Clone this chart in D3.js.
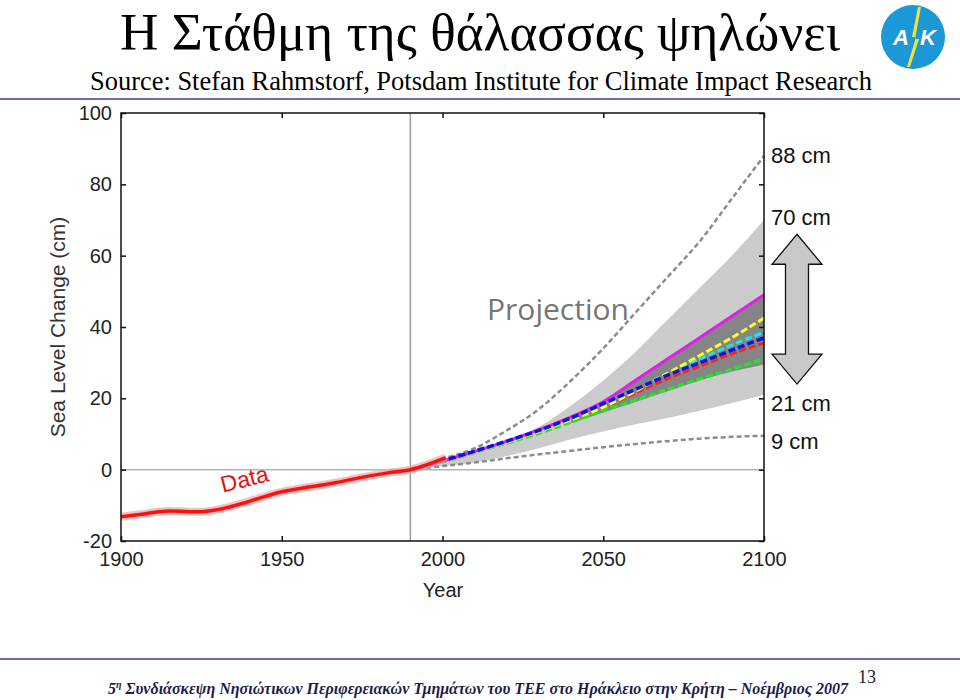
<!DOCTYPE html>
<html>
<head>
<meta charset="utf-8">
<script src="https://cdn.jsdelivr.net/npm/d3@7"></script>
<style>
  body { margin: 0; background: #fff; }
  svg { display: block; }
</style>
</head>
<body>
<div id="chart"></div>
<script>
const histYears = [1900, 1907, 1915, 1925, 1930, 1938, 1943, 1950, 1959, 1967, 1974, 1983, 1990, 2001];
const histValues = [-13.2, -12.4, -11.6, -11.8, -11.2, -9.4, -8.0, -6.2, -4.8, -3.6, -2.3, -0.9, 0, 3.4];

// projections, one value per decade from 1990 to 2100
const projYears = [1990, 2000, 2010, 2020, 2030, 2040, 2050, 2060, 2070, 2080, 2090, 2100];
const upperDashed = [0, 3, 6, 11, 17, 25, 34, 44, 54, 64, 76, 88];
const lowerDashed = [0, 1, 2, 3.2, 4.3, 5.3, 6.3, 7.2, 8, 8.7, 9.2, 9.5];
const bandUpper = [0, 2, 4.5, 8, 12, 18, 25, 33, 42, 51, 60, 70];
const bandLower = [0, 1, 2, 3.8, 6, 8.5, 10.7, 12.7, 14.5, 16.5, 18.7, 21];

const coreYears = [2040, 2050, 2060, 2070, 2080, 2090, 2100];
const coreUpper = [14.5, 19.5, 25.5, 31.5, 37.5, 43.5, 49.5];
const coreLower = [13, 16, 19, 22, 25, 27.5, 29.5];

const scenarioNames = ['green', 'red', 'cyan', 'yellow', 'magenta', 'blue'];
const scenarioValues = [
  [0, 2.2, 4.8, 7.4, 10.2, 13.3, 16.5, 19.5, 22.5, 25.5, 28.2, 31],
  [0, 2.3, 5.0, 7.8, 10.8, 14.2, 17.5, 21.5, 25.5, 29, 32.5, 35.5],
  [0, 2.3, 5.0, 7.8, 10.9, 14.4, 18, 22.5, 27, 31, 35, 38.5],
  [0, 2.3, 5.0, 7.7, 10.7, 14.0, 17.5, 22, 27, 32, 37, 42.5],
  [0, 2.4, 5.1, 8.0, 11.2, 14.8, 19, 25, 31, 37, 43, 49],
  [0, 2.5, 5.2, 8.0, 11.0, 14.5, 18.5, 22.5, 26.5, 30, 33.5, 37]
];

const endLabels = [88, 70, 21, 9];
const arrowRange = [24, 66];

const xTicks = [1900, 1950, 2000, 2050, 2100];
const yTicks = [-20, 0, 20, 40, 60, 80, 100];

const width = 960;
const height = 700;
const plot = { left: 121, right: 764, top: 113, bottom: 541 };

const scenarioColor = {
  green: '#22e622',
  red: '#ff2020',
  cyan: '#18e6f0',
  yellow: '#ffff20',
  magenta: '#e020e8',
  blue: '#0a14e0'
};
const headerRule = '#6a6ab8';
const sans = 'Arial, "Liberation Sans", sans-serif';
const serif = '"Times New Roman", "Liberation Serif", serif';

const svg = d3.select('#chart')
  .append('svg')
  .attr('width', width)
  .attr('height', height);

// --- slide header ---
svg.append('text')
  .attr('x', 480)
  .attr('y', 50)
  .attr('text-anchor', 'middle')
  .attr('font-family', serif)
  .attr('font-size', 52)
  .attr('textLength', 720)
  .attr('lengthAdjust', 'spacingAndGlyphs')
  .text('Η Στάθμη της θάλασσας ψηλώνει');

svg.append('text')
  .attr('x', 481)
  .attr('y', 90)
  .attr('text-anchor', 'middle')
  .attr('font-family', serif)
  .attr('font-size', 28)
  .attr('textLength', 782)
  .attr('lengthAdjust', 'spacingAndGlyphs')
  .text('Source: Stefan Rahmstorf, Potsdam Institute for Climate Impact Research');

svg.append('line')
  .attr('x1', 0).attr('x2', width)
  .attr('y1', 99).attr('y2', 99)
  .attr('stroke', headerRule)
  .attr('stroke-width', 2);

// logo
const logo = svg.append('g').attr('transform', 'translate(913,37)');
logo.append('circle').attr('r', 32).attr('fill', '#1b98d5');
logo.append('path')
  .attr('d', 'M5,-30 L-1,0 L3,0 L-6,30 L-3,30 L6,2 L2,2 L8,-30 Z')
  .attr('fill', '#f2e23a');
logo.append('text')
  .attr('x', -12).attr('y', 8)
  .attr('text-anchor', 'middle')
  .attr('font-family', sans)
  .attr('font-weight', 700)
  .attr('font-style', 'italic')
  .attr('font-size', 22)
  .attr('fill', '#fff')
  .text('A');
logo.append('text')
  .attr('x', 15).attr('y', 8)
  .attr('text-anchor', 'middle')
  .attr('font-family', sans)
  .attr('font-weight', 700)
  .attr('font-style', 'italic')
  .attr('font-size', 22)
  .attr('fill', '#fff')
  .text('K');

// --- chart ---
const x = d3.scaleLinear().domain([1900, 2100]).range([plot.left, plot.right]);
const y = d3.scaleLinear().domain([-20, 100]).range([plot.bottom, plot.top]);

const line = d3.line()
  .x(d => x(d[0]))
  .y(d => y(d[1]))
  .curve(d3.curveMonotoneX);

const area = d3.area()
  .x(d => x(d[0]))
  .y0(d => y(d[1]))
  .y1(d => y(d[2]))
  .curve(d3.curveMonotoneX);

// reference lines
svg.append('line')
  .attr('x1', x(1900)).attr('x2', x(2100))
  .attr('y1', y(0)).attr('y2', y(0))
  .attr('stroke', '#b4b4b4')
  .attr('stroke-width', 1.5);

svg.append('line')
  .attr('x1', x(1990)).attr('x2', x(1990))
  .attr('y1', y(-20)).attr('y2', y(100))
  .attr('stroke', '#9a9a9a')
  .attr('stroke-width', 1.5);

// uncertainty bands
svg.append('path')
  .datum(d3.zip(projYears, bandLower, bandUpper))
  .attr('d', area)
  .attr('fill', '#cbcbcb');

svg.append('path')
  .datum(d3.zip(coreYears, coreLower, coreUpper))
  .attr('d', area)
  .attr('fill', '#858585');

// outer bounds
[upperDashed, lowerDashed].forEach(vals => {
  svg.append('path')
    .datum(d3.zip(projYears, vals))
    .attr('d', line)
    .attr('fill', 'none')
    .attr('stroke', '#8c8c8c')
    .attr('stroke-width', 2.5)
    .attr('stroke-dasharray', '5,3');
});

// model scenarios
scenarioNames.forEach((name, i) => {
  svg.append('path')
    .datum(d3.zip(projYears, scenarioValues[i]))
    .attr('d', line)
    .attr('fill', 'none')
    .attr('stroke', scenarioColor[name])
    .attr('stroke-width', name === 'blue' ? 3.5 : 3)
    .attr('stroke-dasharray', name === 'magenta' ? null : '7,3');
});

// observations
const histData = d3.zip(histYears, histValues);
svg.append('path')
  .datum(histData)
  .attr('d', line)
  .attr('fill', 'none')
  .attr('stroke', '#e8a8a8')
  .attr('stroke-opacity', 0.7)
  .attr('stroke-width', 8);

svg.append('path')
  .datum(histData)
  .attr('d', line)
  .attr('fill', 'none')
  .attr('stroke', '#ff1010')
  .attr('stroke-width', 3.5);

// axes box
const axisStyle = g => {
  g.select('.domain').remove();
  g.selectAll('.tick line').attr('stroke', '#111').attr('stroke-width', 1.5);
  g.selectAll('.tick text')
    .attr('font-family', sans)
    .attr('font-size', 20)
    .attr('fill', '#222');
};

svg.append('g')
  .attr('transform', `translate(0,${plot.bottom})`)
  .call(d3.axisBottom(x).tickValues(xTicks).tickFormat(d => String(d)).tickSize(-5).tickPadding(11))
  .call(axisStyle);

svg.append('g')
  .attr('transform', `translate(0,${plot.top})`)
  .call(d3.axisTop(x).tickValues(xTicks).tickFormat('').tickSize(-5))
  .call(axisStyle);

svg.append('g')
  .attr('transform', `translate(${plot.left},0)`)
  .call(d3.axisLeft(y).tickValues(yTicks).tickFormat(d => String(d)).tickSize(-5).tickPadding(9))
  .call(axisStyle);

svg.append('g')
  .attr('transform', `translate(${plot.right},0)`)
  .call(d3.axisRight(y).tickValues(yTicks).tickFormat('').tickSize(-5))
  .call(axisStyle);

svg.append('rect')
  .attr('x', plot.left)
  .attr('y', plot.top)
  .attr('width', plot.right - plot.left)
  .attr('height', plot.bottom - plot.top)
  .attr('fill', 'none')
  .attr('stroke', '#111')
  .attr('stroke-width', 1.5);

svg.append('text')
  .attr('x', (plot.left + plot.right) / 2 + 0.5)
  .attr('y', 597)
  .attr('text-anchor', 'middle')
  .attr('font-family', sans)
  .attr('font-size', 20)
  .attr('fill', '#222')
  .text('Year');

svg.append('text')
  .attr('transform', `translate(65,${y(40)}) rotate(-90)`)
  .attr('text-anchor', 'middle')
  .attr('font-family', sans)
  .attr('font-size', 21)
  .attr('fill', '#333')
  .text('Sea Level Change (cm)');

// in-plot annotations
svg.append('text')
  .attr('x', 558)
  .attr('y', 320)
  .attr('text-anchor', 'middle')
  .attr('font-family', '"Open Sans", "DejaVu Sans", sans-serif')
  .attr('font-size', 30)
  .attr('fill', '#767676')
  .text('Projection');

svg.append('text')
  .attr('transform', `translate(${x(1939)},${y(-4.8)}) rotate(-14)`)
  .attr('text-anchor', 'middle')
  .attr('font-family', sans)
  .attr('font-size', 23)
  .attr('fill', '#e81010')
  .text('Data');

// end-of-century labels
const labelShift = { 88: 7, 70: 5, 21: 16, 9: 11 };
svg.append('g')
  .selectAll('text')
  .data(endLabels)
  .join('text')
  .attr('x', plot.right + 7)
  .attr('y', d => y(d) + labelShift[d])
  .attr('font-family', sans)
  .attr('font-size', 22)
  .attr('fill', '#111')
  .text(d => `${d} cm`);

// double-headed range arrow
const ax = plot.right + 33;
const aTop = y(arrowRange[1]);
const aBot = y(arrowRange[0]);
const headW = 25, shaftW = 11.5, headH = 30;
const arrowPath = d3.path();
arrowPath.moveTo(ax, aTop);
arrowPath.lineTo(ax + headW, aTop + headH);
arrowPath.lineTo(ax + shaftW, aTop + headH);
arrowPath.lineTo(ax + shaftW, aBot - headH);
arrowPath.lineTo(ax + headW, aBot - headH);
arrowPath.lineTo(ax, aBot);
arrowPath.lineTo(ax - headW, aBot - headH);
arrowPath.lineTo(ax - shaftW, aBot - headH);
arrowPath.lineTo(ax - shaftW, aTop + headH);
arrowPath.lineTo(ax - headW, aTop + headH);
arrowPath.closePath();
svg.append('path')
  .attr('d', arrowPath.toString())
  .attr('fill', '#c8c8c8')
  .attr('stroke', '#111')
  .attr('stroke-width', 1.3);

// --- slide footer ---
svg.append('line')
  .attr('x1', 0).attr('x2', width)
  .attr('y1', 659).attr('y2', 659)
  .attr('stroke', headerRule)
  .attr('stroke-width', 2);

const footer = svg.append('text')
  .attr('x', 478)
  .attr('y', 694)
  .attr('text-anchor', 'middle')
  .attr('font-family', serif)
  .attr('font-size', 16)
  .attr('font-style', 'italic')
  .attr('font-weight', 700)
  .attr('fill', '#1c1c4a')
  .attr('textLength', 740)
  .attr('lengthAdjust', 'spacingAndGlyphs');
footer.append('tspan').text('5');
footer.append('tspan').attr('font-size', 10).attr('dy', -6).text('η');
footer.append('tspan').attr('dy', 6).text(' Συνδιάσκεψη Νησιώτικων Περιφερειακών Τμημάτων του ΤΕΕ στο Ηράκλειο στην Κρήτη – Νοέμβριος 2007');

svg.append('text')
  .attr('x', 867)
  .attr('y', 683)
  .attr('text-anchor', 'middle')
  .attr('font-family', serif)
  .attr('font-size', 18)
  .attr('fill', '#222')
  .text('13');
</script>
</body>
</html>
